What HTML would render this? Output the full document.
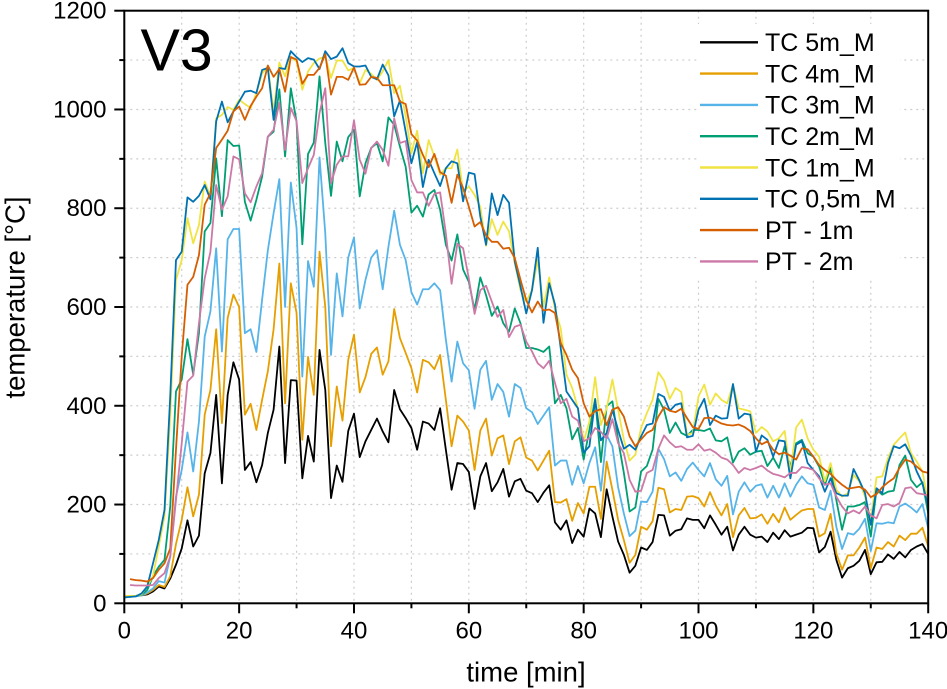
<!DOCTYPE html>
<html lang="en">
<head>
<meta charset="utf-8">
<title>V3 temperature chart</title>
<style>
html,body{margin:0;padding:0;background:#fff;}
svg{display:block;font-family:"Liberation Sans",Arial,sans-serif;}
</style>
</head>
<body>
<svg id="chart" xmlns="http://www.w3.org/2000/svg" width="947" height="689" viewBox="0 0 947 689">
  <rect x="0" y="0" width="947" height="689" fill="#ffffff"/>
  <g id="grid"></g>
  <g id="series"></g>
  <g id="axes"></g>
  <text x="140.5" y="70.5" font-size="59" fill="#000">V3</text>
  <text x="526" y="681.5" font-size="27.5" text-anchor="middle" fill="#000">time [min]</text>
  <text transform="translate(24.5,297.5) rotate(-90)" font-size="27.5" text-anchor="middle" fill="#000">temperature [°C]</text>
  <g id="legend"></g>
</svg>
<script>
var xTicks = [0, 20, 40, 60, 80, 100, 120, 140];
var xMinorTicks = [10, 30, 50, 70, 90, 110, 130];
var yTicks = [0, 200, 400, 600, 800, 1000, 1200];
var yMinorTicks = [100, 300, 500, 700, 900, 1100];

var tc5m = [15,15,15,16,18,24,34,30,50,78,
111,168,115,137,263,304,422,243,422,488,
453,270,286,245,280,345,392,520,284,452,
451,253,339,287,513,432,213,279,246,349,
384,296,328,351,374,348,326,432,393,375,
355,311,368,364,351,395,311,230,284,282,
266,191,257,284,227,245,272,216,247,252,
228,223,205,224,239,164,149,168,122,149,
135,192,182,134,231,176,125,98,62,76,
113,108,124,179,178,137,147,150,172,169,
169,152,178,159,139,155,107,139,155,139,
133,135,124,143,130,148,135,139,143,153,
152,103,114,145,88,52,71,76,86,108,
59,83,84,99,90,104,93,108,115,120,
100];
var tc4m = [15,15,15,16,20,27,37,33,55,120,
169,235,176,220,382,432,555,365,578,625,
600,382,404,351,412,470,555,688,405,648,
588,331,499,422,712,600,318,439,370,493,
544,427,458,505,518,463,490,596,537,507,
476,427,493,488,474,503,412,318,380,368,
350,270,350,374,299,334,340,282,328,336,
295,289,269,289,309,205,204,211,167,203,
182,236,236,171,287,230,169,128,82,98,
155,149,166,234,231,184,191,189,216,217,
213,196,225,198,178,201,134,178,193,172,
173,180,161,181,164,194,169,179,188,191,
191,135,142,181,101,68,97,97,113,133,
71,113,110,124,115,137,128,141,141,153,
115];
var tc3m = [12,13,14,16,22,30,45,42,95,216,
270,346,267,368,540,591,719,510,737,758,
758,547,555,509,615,715,790,859,600,852,
760,459,693,641,903,749,503,668,581,700,
741,597,655,700,715,636,722,795,726,695,
630,605,636,636,648,634,534,449,530,486,
472,394,473,491,412,444,428,378,444,436,
395,387,363,380,397,279,289,289,240,278,
243,284,316,228,341,318,235,182,136,147,
206,205,226,313,292,257,265,248,272,285,
270,257,284,251,238,258,180,226,245,226,
238,241,214,238,214,243,216,240,257,243,
240,194,189,228,155,110,142,139,151,171,
106,162,161,164,162,196,202,194,184,201,
152];
var tc2m = [15,15,15,17,27,55,74,88,196,429,
453,535,463,547,753,770,901,784,938,926,
927,813,775,817,864,945,955,1041,905,1043,
975,727,910,933,1067,932,825,935,895,944,
959,824,891,922,932,895,984,969,925,884,
791,805,783,828,837,797,726,694,747,676,
651,594,660,624,582,601,567,550,597,567,
517,517,514,509,520,405,422,395,332,355,
291,351,414,286,399,409,331,264,186,194,
267,278,311,414,392,345,366,345,339,351,
351,349,354,330,328,336,285,307,314,301,
307,309,278,295,274,318,277,324,331,304,
297,277,240,274,209,149,196,196,199,205,
135,230,220,226,228,280,299,250,235,245,
182];
var tc1m = [15,15,15,18,35,55,115,176,378,655,
695,780,729,766,854,824,982,989,1005,999,
1020,1011,1003,1033,1073,1087,996,1095,1067,1107,
1097,1040,1077,1094,1103,1107,1064,1099,1099,1079,
1084,1053,1080,1072,1060,1077,1100,1033,1048,986,
911,957,871,938,905,868,881,881,919,834,
844,827,803,724,778,746,773,753,689,634,
611,634,695,601,660,595,557,463,436,395,
328,368,458,361,395,453,392,331,289,301,
355,385,412,468,451,414,436,428,341,345,
419,443,402,425,412,405,443,395,392,389,
345,357,348,328,334,349,264,356,372,334,
311,297,247,284,230,216,223,260,247,216,
169,255,257,294,321,334,346,304,287,267,
203];
var tc05m = [12,13,14,20,34,81,128,189,419,695,
712,822,813,825,847,818,976,1016,974,996,
1016,1036,1038,1033,1080,1084,979,1084,1082,1118,
1106,1096,1104,1101,1082,1118,1102,1107,1124,1094,
1087,1087,1089,1066,1061,1091,1069,986,1018,955,
891,934,843,898,871,845,881,895,891,814,
872,869,783,726,830,786,827,811,692,641,
587,634,720,568,648,605,517,429,412,395,
305,318,412,330,345,392,351,313,321,311,
338,361,364,424,418,390,402,405,336,339,
392,414,361,380,374,375,444,374,384,382,
307,340,331,297,330,328,253,321,328,284,
270,257,226,253,223,218,218,272,249,223,
159,233,223,284,318,314,322,299,267,243,
196];
var pt1m = [null,49,47,46,44,51,68,81,111,311,
500,645,661,705,807,830,922,939,957,996,
1006,979,1007,1026,1043,1089,1066,1082,1036,1106,
1101,1052,1070,1070,1084,1112,1030,1066,1066,1060,
1085,1050,1051,1066,1064,1049,1049,1049,1016,1011,
950,937,908,883,910,873,866,811,868,841,
803,763,772,745,732,732,718,720,699,655,
614,589,611,593,595,588,527,503,473,456,
405,378,389,393,361,392,397,378,338,318,
332,345,351,378,397,390,387,394,375,357,
353,375,376,370,364,361,360,362,357,349,
334,322,328,311,302,305,299,291,314,312,
297,280,270,262,250,240,232,234,236,230,
215,221,235,245,253,274,291,287,277,267,
264];
var pt2m = [null,37,36,36,36,37,51,61,95,209,
324,449,461,567,658,712,847,797,824,905,
899,830,812,844,871,945,959,1013,918,1003,
976,851,881,908,993,1043,851,888,905,905,
978,898,870,922,935,918,886,982,932,936,
857,832,832,805,829,832,749,647,728,719,
658,586,634,643,611,580,594,539,560,564,
530,510,486,476,491,446,405,414,378,370,
328,334,355,347,334,373,324,304,250,226,
228,264,270,313,340,326,316,318,311,311,
322,309,312,305,295,291,280,264,274,270,
274,279,269,262,259,255,264,264,276,274,
270,253,240,243,216,196,182,188,182,196,
178,172,199,201,196,203,233,235,223,221,
218];

var seriesNames = ['TC 5m_M','TC 4m_M','TC 3m_M','TC 2m_M','TC 1m_M','TC 0,5m_M','PT - 1m','PT - 2m'];
var seriesValues = [tc5m, tc4m, tc3m, tc2m, tc1m, tc05m, pt1m, pt2m];
var seriesColors = ['#000000','#E69F00','#56B4E9','#009E73','#F0E442','#0072B2','#D55E00','#CC79A7'];

var NS = 'http://www.w3.org/2000/svg';
var left = 124.3, right = 928.2, top_ = 10.7, bottom = 603.3;
var xMax = 140, yMax = 1200;
function xScale(v){ return left + (v / xMax) * (right - left); }
function yScale(v){ return bottom - (v / yMax) * (bottom - top_); }
function mk(tag, parent, attrs){
  var el = document.createElementNS(NS, tag);
  for (var k in attrs) el.setAttribute(k, attrs[k]);
  parent.appendChild(el);
  return el;
}

var grid = document.getElementById('grid');
xTicks.concat(xMinorTicks).forEach(function(t){
  if (t === 0 || t === xMax) return;
  var l = mk('line', grid, {x1:xScale(t), x2:xScale(t), y1:top_, y2:bottom, stroke:'#cccccc', 'stroke-width':1.2, 'stroke-dasharray':'2 4'});
  
  
});
yTicks.concat(yMinorTicks).forEach(function(t){
  if (t === 0 || t === yMax) return;
  var l = mk('line', grid, {x1:left, x2:right, y1:yScale(t), y2:yScale(t), stroke:'#cccccc', 'stroke-width':1.2, 'stroke-dasharray':'2 4'});
  
  
});

var seriesG = document.getElementById('series');
seriesValues.forEach(function(vals, i){
  var pts = [];
  vals.forEach(function(v, m){
    if (v === null) return;
    pts.push(xScale(m).toFixed(2) + ',' + yScale(v).toFixed(2));
  });
  var p = mk('polyline', seriesG, {points:pts.join(' '), fill:'none', stroke:seriesColors[i], 'stroke-width':1.8, 'stroke-linejoin':'round'});
  
  
});

var axes = document.getElementById('axes');
var frame = mk('rect', axes, {x:left, y:top_, width:right-left, height:bottom-top_, fill:'none', stroke:'#000', 'stroke-width':2});



xTicks.forEach(function(t){
  var l = mk('line', axes, {x1:xScale(t), x2:xScale(t), y1:bottom, y2:bottom+10, stroke:'#000', 'stroke-width':2});
  
  
  var s = mk('text', axes, {x:xScale(t), y:638.5, 'font-size':24, 'text-anchor':'middle', fill:'#000'});
  
  
  s.textContent = String(t);
});
xMinorTicks.forEach(function(t){
  var l = mk('line', axes, {x1:xScale(t), x2:xScale(t), y1:bottom, y2:bottom+5, stroke:'#000', 'stroke-width':2});
  
  
});
yTicks.forEach(function(t){
  var l = mk('line', axes, {x1:left-10, x2:left, y1:yScale(t), y2:yScale(t), stroke:'#000', 'stroke-width':2});
  
  
  var s = mk('text', axes, {x:106.5, y:yScale(t)+8, 'font-size':24, 'text-anchor':'end', fill:'#000'});
  
  
  s.textContent = String(t);
});
yMinorTicks.forEach(function(t){
  var l = mk('line', axes, {x1:left-5, x2:left, y1:yScale(t), y2:yScale(t), stroke:'#000', 'stroke-width':2});
  
  
});

var legend = document.getElementById('legend');
var lbg = mk('rect', legend, {x:697, y:24, width:203, height:254, fill:'#fff'});


seriesNames.forEach(function(name, i){
  var y = 42.3 + i * 31.3;
  var l = mk('line', legend, {x1:700, x2:758, y1:y, y2:y, stroke:seriesColors[i], 'stroke-width':2.4});
  
  
  var s = mk('text', legend, {x:765, y:y+8.8, 'font-size':25, fill:'#000'});
  
  
  s.textContent = name;
});
</script>
</body>
</html>
